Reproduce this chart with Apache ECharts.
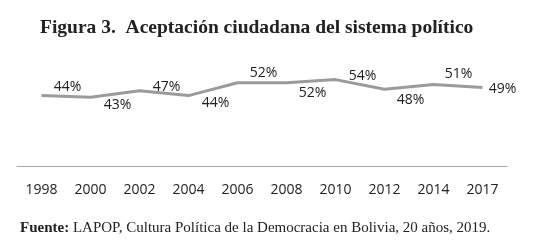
<!DOCTYPE html>
<html><head><meta charset="utf-8">
<script src="https://cdn.jsdelivr.net/npm/echarts@6/dist/echarts.min.js"></script>
<style>html,body{margin:0;padding:0;background:#fff}#c{width:533px;height:247px}</style>
</head><body><div id="c"></div>
<script>
const years = ['1998','2000','2002','2004','2006','2008','2010','2012','2014','2017'];
const values = [44, 43, 47, 44, 52, 52, 54, 48, 51, 49];
const titleText = 'Figura 3.  Aceptación ciudadana del sistema político';
const sourceBold = 'Fuente:';
const sourceText = ' LAPOP, Cultura Política de la Democracia en Bolivia, 20 años, 2019.';

// label placement (dx, dy in px from each point), as in the reference
const labelOffsets = [[26,-9],[27,8],[27,-4],[27,7],[26,-9.5],[26,10],[27,-3.5],[26,11],[25,-10],[20,1]];

const SYM = 2;
const chart = echarts.init(document.getElementById('c'), null, {renderer:'canvas'});
const data = values.map((v,i)=>({
  value: v,
  label: {show:true, position:[labelOffsets[i][0]+SYM/2, labelOffsets[i][1]+SYM/2], align:'center', verticalAlign:'middle'}
}));
chart.setOption({
  animation:false,
  title:{text:titleText,left:35,top:13,
    textStyle:{fontFamily:'Liberation Serif',fontWeight:'bold',fontSize:19.5,color:'#222'}},
  graphic:[{type:'text',left:20,top:221,style:{
    rich:{b:{fontFamily:'Liberation Serif',fontWeight:'bold',fontSize:15,fill:'#222'},
          n:{fontFamily:'Liberation Serif',fontSize:15,fill:'#222'}},
    text:'{b|'+sourceBold+'}{n|'+sourceText+'}'}}],
  grid:{left:17,right:26,top:70,bottom:81},
  xAxis:{type:'category',data:years,boundaryGap:true,
    axisLine:{lineStyle:{color:'#a6a6a6',width:1}},axisTick:{show:false},
    axisLabel:{fontFamily:'Open Sans',fontSize:14,color:'#222',margin:17}},
  yAxis:{type:'value',min:0,max:60,show:false,splitLine:{show:false}},
  series:[{type:'line',data:data,symbol:'circle',symbolSize:SYM,showSymbol:true,showAllSymbol:true,
    itemStyle:{color:'rgba(0,0,0,0)',borderWidth:0},
    lineStyle:{color:'#9b9b9b',width:3},
    labelLayout:{hideOverlap:false},
    label:{show:true,formatter:'{c}%',fontFamily:'Open Sans',fontSize:14,color:'#222'}}]
});
</script></body></html>
